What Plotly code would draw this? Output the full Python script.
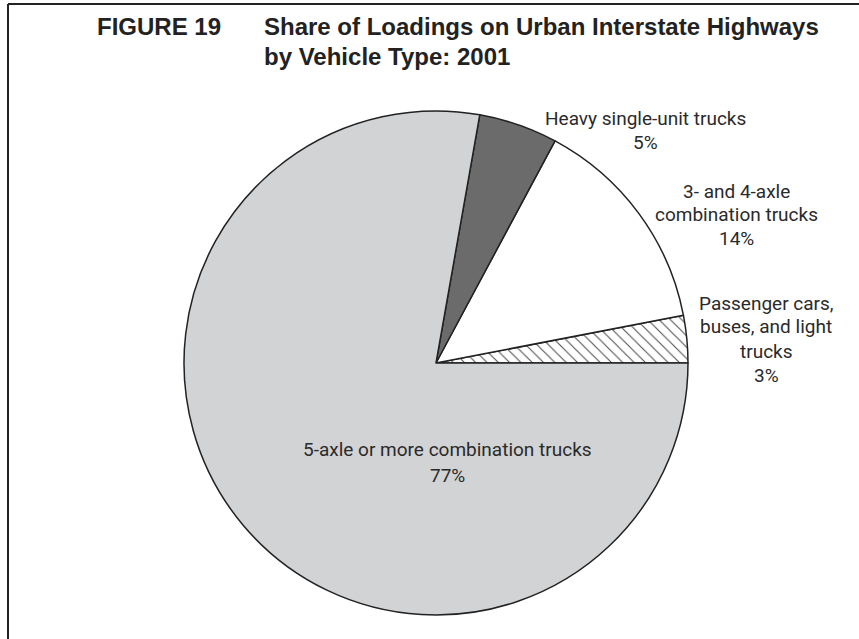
import plotly.graph_objects as go

W, H = 859, 639

# Vehicle classes, counter-clockwise from 3 o'clock
categories = [
    "Passenger cars, buses, and light trucks",
    "3- and 4-axle combination trucks",
    "Heavy single-unit trucks",
    "5-axle or more combination trucks",
]
shares = [3, 14, 5, 77]

# Label text, one entry per printed line
label_lines = [
    ["Passenger cars,", "buses, and light", "trucks", "3%"],
    ["3- and 4-axle", "combination trucks", "14%"],
    ["Heavy single-unit trucks", "5%"],
    ["5-axle or more combination trucks", "77%"],
]

fills = ["white", "white", "#6b6b6b", "#d2d3d5"]
patterns = ["\\", "", "", ""]


def px(x):
    return x / W


def py(y):
    return 1 - y / H


# Plotly lays counter-clockwise slices so the first one ends at the start
# angle; shift by the first slice so it begins at 3 o'clock instead.
first_span = 360 * shares[0] / sum(shares)

fig = go.Figure(
    go.Pie(
        labels=categories,
        values=shares,
        sort=False,
        direction="counterclockwise",
        rotation=90 - first_span,
        textinfo="none",
        hoverinfo="label+percent",
        marker=dict(
            colors=fills,
            line=dict(color="#222222", width=1.5),
            pattern=dict(
                shape=patterns,
                fgcolor="#444444",
                bgcolor="white",
                size=8,
                solidity=0.12,
            ),
        ),
        domain=dict(x=[px(184), px(688)], y=[py(615), py(111)]),
        showlegend=False,
    )
)

annotations = []
label_font = dict(family="Roboto, Liberation Sans, Arial, sans-serif", size=19, color="#2a2a2a")
# (center x, first-line y, line step) for each label block
label_places = [(766, 303, 24), (736, 191, 23.5), (645, 118, 24), (448, 450, 25)]
for lines, (cx, y0, step) in zip(label_lines, label_places):
    for i, line in enumerate(lines):
        annotations.append(
            dict(
                text=line,
                x=px(cx),
                y=py(y0 + i * step),
                xref="paper",
                yref="paper",
                xanchor="center",
                yanchor="middle",
                showarrow=False,
                font=label_font,
            )
        )

title_font = dict(family="Liberation Sans, Arial, sans-serif", size=24, color="#222222")
title_parts = [
    ("<b>FIGURE 19</b>", 95, 27),
    ("<b>Share of Loadings on Urban Interstate Highways</b>", 262, 27),
    ("<b>by Vehicle Type: 2001</b>", 262, 56),
]
for text, x, y in title_parts:
    annotations.append(
        dict(
            text=text,
            x=px(x),
            y=py(y),
            xref="paper",
            yref="paper",
            xanchor="left",
            yanchor="middle",
            showarrow=False,
            font=title_font,
        )
    )

# Frame: top and left rules
shapes = [
    dict(type="line", xref="paper", yref="paper", x0=px(8), y0=py(4), x1=1, y1=py(4),
         line=dict(color="#222222", width=2)),
    dict(type="line", xref="paper", yref="paper", x0=px(8), y0=py(4), x1=px(8), y1=0,
         line=dict(color="#222222", width=2)),
]

fig.update_layout(
    width=W,
    height=H,
    margin=dict(l=0, r=0, t=0, b=0),
    paper_bgcolor="white",
    plot_bgcolor="white",
    annotations=annotations,
    shapes=shapes,
)

fig.write_html("out.html")
